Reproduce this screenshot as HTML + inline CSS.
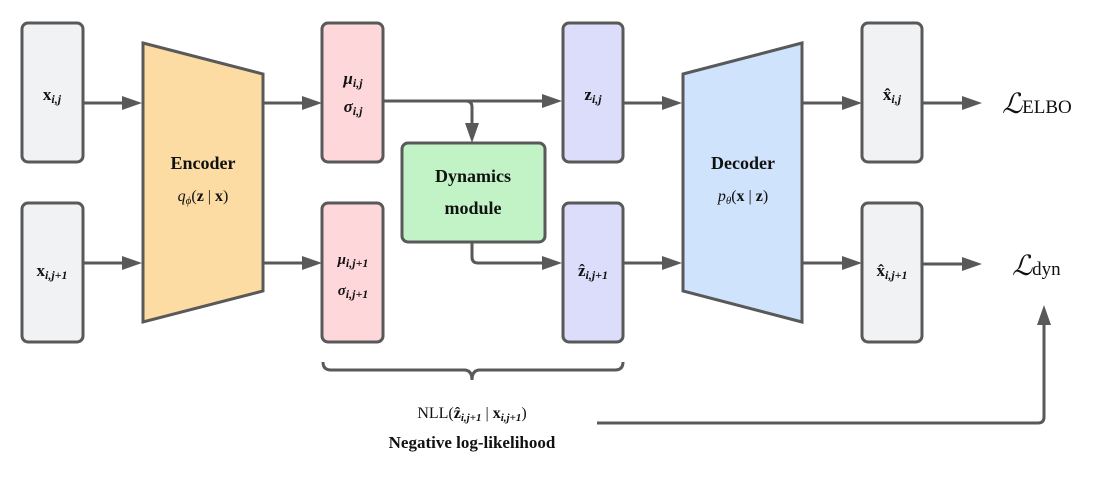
<!DOCTYPE html>
<html><head><meta charset="utf-8"><style>
body{margin:0;background:#fff;}
svg text{font-family:"Liberation Serif",serif;}
</style></head><body>
<svg width="1108" height="472" viewBox="0 0 1108 472" xmlns="http://www.w3.org/2000/svg">
<g stroke="#595959" stroke-width="3" fill="none">
<rect x="22" y="23" width="61" height="139" rx="6" fill="#f1f2f4"/>
<rect x="22" y="203" width="61" height="139" rx="6" fill="#f1f2f4"/>
<polygon points="143,43 263,74 263,291 143,322" fill="#fcdca3"/>
<rect x="322" y="23" width="61" height="139" rx="6" fill="#fdd7da"/>
<rect x="322" y="203" width="61" height="139" rx="6" fill="#fdd7da"/>
<rect x="402" y="143" width="143" height="99" rx="6" fill="#c2f3c6"/>
<rect x="563" y="23" width="60" height="139" rx="6" fill="#dcdcfb"/>
<rect x="563" y="203" width="60" height="139" rx="6" fill="#dcdcfb"/>
<polygon points="683,74 802,43 802,322 683,291" fill="#cfe3fd"/>
<rect x="862" y="23" width="60" height="139" rx="6" fill="#f1f2f4"/>
<rect x="862" y="203" width="60" height="139" rx="6" fill="#f1f2f4"/>
<path d="M83,103H125 M83,263H125 M263,103H305 M263,263H305 M383,101H545 M466,101Q472,101 472,107V125 M472,242V257Q472,263 478,263H545 M623,103H665 M623,263H665 M802,103H845 M802,263H845 M922,103H965 M922,264H965 M597,423H1038Q1044,423 1044,417V322"/>
<path d="M323,362Q323,370 331,370H464Q472,370 472,380Q472,370 480,370H615Q623,370 623,362"/>
</g>
<g fill="#595959">
<polygon points="142,103 122,96 122,110"/>
<polygon points="142,263 122,256 122,270"/>
<polygon points="322,103 302,96 302,110"/>
<polygon points="322,263 302,256 302,270"/>
<polygon points="562,101 542,94 542,108"/>
<polygon points="562,263 542,256 542,270"/>
<polygon points="472,143 465,123 479,123"/>
<polygon points="682,103 662,96 662,110"/>
<polygon points="682,263 662,256 662,270"/>
<polygon points="862,103 842,96 842,110"/>
<polygon points="862,263 842,256 842,270"/>
<polygon points="982,103 962,96 962,110"/>
<polygon points="982,264 962,257 962,271"/>
<polygon points="1044,305 1037,325 1051,325"/>
</g>
<g font-size="17" font-weight="bold" text-anchor="middle" fill="#111">
<text x="52" y="100">x<tspan font-size="12" font-style="italic" dy="3">i,j</tspan></text>
<text x="52" y="276">x<tspan font-size="12" font-style="italic" dy="3">i,j+1</tspan></text>
<text x="353" y="84" font-style="italic">μ<tspan font-size="12" dy="3">i,j</tspan></text>
<text x="353" y="112" font-style="italic">σ<tspan font-size="12" dy="3">i,j</tspan></text>
<text x="353" y="264" font-size="15" font-style="italic">μ<tspan font-size="12" dy="3">i,j+1</tspan></text>
<text x="353" y="295" font-size="15" font-style="italic">σ<tspan font-size="12" dy="3">i,j+1</tspan></text>
<text x="593" y="100">z<tspan font-size="12" font-style="italic" dy="3">i,j</tspan></text>
<text x="593" y="276">ẑ<tspan font-size="12" font-style="italic" dy="3">i,j+1</tspan></text>
<text x="892" y="100">x̂<tspan font-size="12" font-style="italic" dy="3">i,j</tspan></text>
<text x="892" y="276">x̂<tspan font-size="12" font-style="italic" dy="3">i,j+1</tspan></text>
<text x="203" y="169" font-size="18">Encoder</text>
<text x="743" y="169" font-size="18">Decoder</text>
<text x="473" y="182" font-size="18">Dynamics</text>
<text x="473" y="214" font-size="18">module</text>
</g>
<g font-size="16" text-anchor="middle" fill="#111">
<text x="203" y="201"><tspan font-style="italic">q</tspan><tspan font-size="11" font-style="italic" dy="3">ϕ</tspan><tspan dy="-3">(</tspan><tspan font-weight="bold">z</tspan> | <tspan font-weight="bold">x</tspan>)</text>
<text x="743" y="201"><tspan font-style="italic">p</tspan><tspan font-size="11" font-style="italic" dy="3">θ</tspan><tspan dy="-3">(</tspan><tspan font-weight="bold">x</tspan> | <tspan font-weight="bold">z</tspan>)</text>
<text x="472" y="418">NLL(<tspan font-weight="bold">ẑ</tspan><tspan font-size="11" font-style="italic" font-weight="bold" dy="3">i,j+1</tspan><tspan dy="-3"> | </tspan><tspan font-weight="bold">x</tspan><tspan font-size="11" font-style="italic" font-weight="bold" dy="3">i,j+1</tspan><tspan dy="-3">)</tspan></text>
<text x="472" y="448" font-weight="bold" font-size="17">Negative log-likelihood</text>
</g>
<g fill="#111">
<text x="1002" y="113" font-size="28" font-style="italic">ℒ<tspan font-style="normal" font-size="19">ELBO</tspan></text>
<text x="1012" y="275" font-size="28" font-style="italic">ℒ<tspan font-style="normal" font-size="19">dyn</tspan></text>
</g>
</svg>
</body></html>
